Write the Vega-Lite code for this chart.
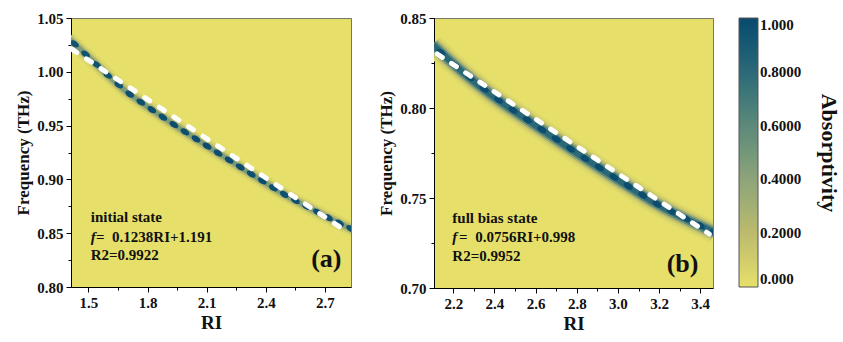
{
  "$schema": "https://vega.github.io/schema/vega-lite/v6.json",
  "padding": {"left": 14, "top": 10, "right": 5, "bottom": 5},
  "config": {
    "font": "Liberation Serif",
    "view": {"fill": "#E6E06A", "stroke": "#77776a", "strokeWidth": 1},
    "axis": {
      "labelFont": "Liberation Serif", "labelFontSize": 15, "labelFontWeight": "bold", "labelColor": "#111",
      "titleFont": "Liberation Serif", "titleFontWeight": "bold", "titleColor": "#111",
      "domainColor": "#000", "tickColor": "#000", "tickSize": 5, "grid": false, "labelPadding": 3
    },
    "legend": {
      "gradientLength": 269, "gradientThickness": 19, "gradientStrokeColor": "#555", "gradientStrokeWidth": 1,
      "labelFont": "Liberation Serif", "labelFontSize": 15, "labelFontWeight": "bold", "labelColor": "#111", "labelOffset": 12,
      "titleFont": "Liberation Serif", "titleFontSize": 22, "titleFontWeight": "bold", "titleColor": "#111",
      "titleOrient": "right", "titleAngle": 90, "titleAnchor": "middle", "titlePadding": 16, "offset": 25
    },
    "concat": {"spacing": 25}
  },
  "datasets": {
    "bandA": [
      {"RI": 1.40, "f": 1.031}, {"RI": 1.5, "f": 1.014}, {"RI": 1.6, "f": 0.9965}, {"RI": 1.7, "f": 0.9805},
      {"RI": 1.8, "f": 0.9675}, {"RI": 1.9, "f": 0.955}, {"RI": 2.0, "f": 0.943}, {"RI": 2.1, "f": 0.9312},
      {"RI": 2.2, "f": 0.9195}, {"RI": 2.3, "f": 0.908}, {"RI": 2.4, "f": 0.8965}, {"RI": 2.5, "f": 0.8853},
      {"RI": 2.6, "f": 0.8755}, {"RI": 2.7, "f": 0.866}, {"RI": 2.85, "f": 0.8525}
    ],
    "blobsA": [
      {"RI": 1.430, "f": 1.0259, "A": 0.93}, {"RI": 1.486, "f": 1.0164, "A": 0.95}, {"RI": 1.542, "f": 1.0067, "A": 0.94},
      {"RI": 1.598, "f": 0.9969, "A": 0.96}, {"RI": 1.654, "f": 0.9879, "A": 0.95}, {"RI": 1.710, "f": 0.9792, "A": 0.97},
      {"RI": 1.766, "f": 0.9719, "A": 0.96}, {"RI": 1.822, "f": 0.9648, "A": 0.98}, {"RI": 1.878, "f": 0.9578, "A": 0.97},
      {"RI": 1.934, "f": 0.9509, "A": 0.98}, {"RI": 1.990, "f": 0.9442, "A": 0.97}, {"RI": 2.046, "f": 0.9376, "A": 0.98},
      {"RI": 2.102, "f": 0.9310, "A": 0.98}, {"RI": 2.158, "f": 0.9244, "A": 0.97}, {"RI": 2.214, "f": 0.9179, "A": 0.98},
      {"RI": 2.270, "f": 0.9115, "A": 0.98}, {"RI": 2.326, "f": 0.9050, "A": 0.97}, {"RI": 2.382, "f": 0.8986, "A": 0.98},
      {"RI": 2.438, "f": 0.8922, "A": 0.97}, {"RI": 2.494, "f": 0.8860, "A": 0.96}, {"RI": 2.550, "f": 0.8804, "A": 0.97},
      {"RI": 2.606, "f": 0.8749, "A": 0.96}, {"RI": 2.662, "f": 0.8696, "A": 0.97}, {"RI": 2.718, "f": 0.8644, "A": 0.96},
      {"RI": 2.774, "f": 0.8593, "A": 0.97}, {"RI": 2.830, "f": 0.8543, "A": 0.96}
    ],
    "fitA": [{"RI": 1.416, "f": 1.021}, {"RI": 2.815, "f": 0.851}],
    "textA": [
      {"RI": 1.512, "f": 0.8655, "t": "initial state"},
      {"RI": 1.539, "f": 0.8465, "t": "= \u00a00.1238RI+1.191"},
      {"RI": 1.512, "f": 0.8300, "t": "R2=0.9922"}
    ],
    "italA": [{"RI": 1.512, "f": 0.8465, "t": "f"}],
    "tagA": [{"RI": 2.707, "f": 0.8258, "t": "(a)"}],
    "bandB": [
      {"RI": 2.10, "f": 0.8352}, {"RI": 2.2, "f": 0.8245}, {"RI": 2.4, "f": 0.806}, {"RI": 2.6, "f": 0.7903},
      {"RI": 2.8, "f": 0.775}, {"RI": 3.0, "f": 0.7602}, {"RI": 3.2, "f": 0.746}, {"RI": 3.47, "f": 0.7308}
    ],
    "blobsB": [
      {"RI": 2.14, "f": 0.8309, "A": 0.97}, {"RI": 2.21, "f": 0.8236, "A": 0.98}, {"RI": 2.28, "f": 0.8171, "A": 0.98},
      {"RI": 2.35, "f": 0.8106, "A": 0.99}, {"RI": 2.42, "f": 0.8044, "A": 0.99}, {"RI": 2.49, "f": 0.7989, "A": 0.99},
      {"RI": 2.56, "f": 0.7934, "A": 0.99}, {"RI": 2.63, "f": 0.7880, "A": 0.99}, {"RI": 2.70, "f": 0.7827, "A": 0.99},
      {"RI": 2.77, "f": 0.7773, "A": 0.99}, {"RI": 2.84, "f": 0.7720, "A": 0.99}, {"RI": 2.91, "f": 0.7669, "A": 0.99},
      {"RI": 2.98, "f": 0.7617, "A": 0.99}, {"RI": 3.05, "f": 0.7567, "A": 0.99}, {"RI": 3.12, "f": 0.7517, "A": 0.99},
      {"RI": 3.19, "f": 0.7467, "A": 0.99}, {"RI": 3.26, "f": 0.7426, "A": 0.98}, {"RI": 3.33, "f": 0.7387, "A": 0.98},
      {"RI": 3.40, "f": 0.7347, "A": 0.98}, {"RI": 3.47, "f": 0.7308, "A": 0.98}
    ],
    "fitB": [{"RI": 2.122, "f": 0.830}, {"RI": 3.444, "f": 0.730}],
    "textB": [
      {"RI": 2.195, "f": 0.7389, "t": "full bias state"},
      {"RI": 2.228, "f": 0.7285, "t": "= \u00a00.0756RI+0.998"},
      {"RI": 2.195, "f": 0.7180, "t": "R2=0.9952"}
    ],
    "italB": [{"RI": 2.195, "f": 0.7285, "t": "f"}],
    "tagB": [{"RI": 3.314, "f": 0.7132, "t": "(b)"}]
  },
  "resolve": {"scale": {"color": "shared"}, "legend": {"color": "shared"}},
  "hconcat": [
    {
      "width": 280, "height": 269,
      "resolve": {"axis": {"x": "independent", "y": "independent"}},
      "layer": [
        {
          "data": {"name": "bandA"},
          "mark": {"type": "line", "stroke": "#D9D66A", "strokeWidth": 14, "clip": true, "interpolate": "monotone"},
          "encoding": {
            "x": {"field": "RI", "type": "quantitative", "scale": {"domain": [1.412, 2.832], "nice": false, "zero": false},
                  "axis": {"values": [1.5, 1.8, 2.1, 2.4, 2.7], "format": ".1f", "title": "RI", "titleFontSize": 19, "titlePadding": 3}},
            "y": {"field": "f", "type": "quantitative", "scale": {"domain": [0.8, 1.05], "nice": false, "zero": false},
                  "axis": {"values": [0.8, 0.85, 0.9, 0.95, 1.0, 1.05], "format": ".2f", "title": "Frequency (THz)", "titleFontSize": 17, "titlePadding": 4}}
          }
        },
        {
          "data": {"name": "bandA"},
          "mark": {"type": "line", "stroke": "#B9B96E", "strokeWidth": 9, "clip": true, "interpolate": "monotone"},
          "encoding": {
            "x": {"field": "RI", "type": "quantitative", "axis": null},
            "y": {"field": "f", "type": "quantitative", "axis": null}
          }
        },
        {
          "data": {"name": "bandA"},
          "mark": {"type": "line", "stroke": "#7C9B78", "strokeWidth": 5, "clip": true, "interpolate": "monotone"},
          "encoding": {
            "x": {"field": "RI", "type": "quantitative", "axis": null},
            "y": {"field": "f", "type": "quantitative", "axis": null}
          }
        },
        {
          "data": {"name": "blobsA"},
          "mark": {"type": "point", "filled": true, "opacity": 1, "strokeWidth": 0, "clip": true,
                   "shape": "M-1,0A1,0.6,0,1,0,1,0A1,0.6,0,1,0,-1,0Z", "angle": 33, "size": 95},
          "encoding": {
            "x": {"field": "RI", "type": "quantitative", "axis": null},
            "y": {"field": "f", "type": "quantitative", "axis": null},
            "color": {"field": "A", "type": "quantitative", "title": "Absorptivity",
                      "scale": {"type": "linear", "domain": [0, 0.2, 0.4, 0.6, 0.8, 1], "range": ["#E6E06A", "#BDBB6D", "#8FA479", "#5E897A", "#2C6978", "#0A4A6E"]},
                      "legend": {"values": [0, 0.2, 0.4, 0.6, 0.8, 1],
                                 "labelExpr": "datum.value == 0 || datum.value == 1 ? format(datum.value, '.3f') : format(datum.value, '.4f')",
                                 "encode": {"labels": {"baseline": {"value": "middle"}}}}}
          }
        },
        {
          "data": {"name": "fitA"},
          "mark": {"type": "line", "stroke": "#FFFFFF", "strokeWidth": 5, "strokeDash": [6, 11.5], "strokeCap": "round", "clip": true},
          "encoding": {
            "x": {"field": "RI", "type": "quantitative", "axis": {"orient": "bottom", "values": [1.65, 1.95, 2.25, 2.55], "labels": false, "domain": false, "tickSize": 3, "title": null}},
            "y": {"field": "f", "type": "quantitative", "axis": {"orient": "left", "values": [0.825, 0.875, 0.925, 0.975, 1.025], "labels": false, "domain": false, "tickSize": 3, "title": null}}
          }
        },
        {
          "data": {"name": "textA"},
          "mark": {"type": "text", "align": "left", "baseline": "middle", "fontSize": 15, "fontWeight": "bold", "font": "Liberation Serif", "color": "#111"},
          "encoding": {
            "x": {"field": "RI", "type": "quantitative", "axis": null},
            "y": {"field": "f", "type": "quantitative", "axis": null},
            "text": {"field": "t"}
          }
        },
        {
          "data": {"name": "italA"},
          "mark": {"type": "text", "align": "left", "baseline": "middle", "fontSize": 15, "fontWeight": "bold", "fontStyle": "italic", "font": "Liberation Serif", "color": "#111"},
          "encoding": {
            "x": {"field": "RI", "type": "quantitative", "axis": null},
            "y": {"field": "f", "type": "quantitative", "axis": null},
            "text": {"field": "t"}
          }
        },
        {
          "data": {"name": "tagA"},
          "mark": {"type": "text", "align": "center", "baseline": "middle", "fontSize": 26, "fontWeight": "bold", "font": "Liberation Serif", "color": "#111"},
          "encoding": {
            "x": {"field": "RI", "type": "quantitative", "axis": null},
            "y": {"field": "f", "type": "quantitative", "axis": null},
            "text": {"field": "t"}
          }
        }
      ]
    },
    {
      "width": 279, "height": 270,
      "resolve": {"axis": {"x": "independent", "y": "independent"}},
      "layer": [
        {
          "data": {"name": "bandB"},
          "mark": {"type": "line", "stroke": "#DCD86A", "strokeWidth": 22, "clip": true, "interpolate": "monotone"},
          "encoding": {
            "x": {"field": "RI", "type": "quantitative", "scale": {"domain": [2.106, 3.462], "nice": false, "zero": false},
                  "axis": {"values": [2.2, 2.4, 2.6, 2.8, 3.0, 3.2, 3.4], "format": ".1f", "title": "RI", "titleFontSize": 19, "titlePadding": 3}},
            "y": {"field": "f", "type": "quantitative", "scale": {"domain": [0.7, 0.85], "nice": false, "zero": false},
                  "axis": {"values": [0.7, 0.75, 0.8, 0.85], "format": ".2f", "title": "Frequency (THz)", "titleFontSize": 17, "titlePadding": 4}}
          }
        },
        {
          "data": {"name": "bandB"},
          "mark": {"type": "line", "stroke": "#CBC96C", "strokeWidth": 17, "clip": true, "interpolate": "monotone"},
          "encoding": {
            "x": {"field": "RI", "type": "quantitative", "axis": null},
            "y": {"field": "f", "type": "quantitative", "axis": null}
          }
        },
        {
          "data": {"name": "bandB"},
          "mark": {"type": "line", "stroke": "#A3AE73", "strokeWidth": 13, "clip": true, "interpolate": "monotone"},
          "encoding": {
            "x": {"field": "RI", "type": "quantitative", "axis": null},
            "y": {"field": "f", "type": "quantitative", "axis": null}
          }
        },
        {
          "data": {"name": "bandB"},
          "mark": {"type": "line", "stroke": "#5E897A", "strokeWidth": 9.5, "clip": true, "interpolate": "monotone"},
          "encoding": {
            "x": {"field": "RI", "type": "quantitative", "axis": null},
            "y": {"field": "f", "type": "quantitative", "axis": null}
          }
        },
        {
          "data": {"name": "bandB"},
          "mark": {"type": "line", "stroke": "#2A6777", "strokeWidth": 6, "clip": true, "interpolate": "monotone"},
          "encoding": {
            "x": {"field": "RI", "type": "quantitative", "axis": null},
            "y": {"field": "f", "type": "quantitative", "axis": null}
          }
        },
        {
          "data": {"name": "blobsB"},
          "mark": {"type": "point", "filled": true, "opacity": 1, "strokeWidth": 0, "clip": true,
                   "shape": "M-1,0A1,0.6,0,1,0,1,0A1,0.6,0,1,0,-1,0Z", "angle": 33, "size": 100},
          "encoding": {
            "x": {"field": "RI", "type": "quantitative", "axis": null},
            "y": {"field": "f", "type": "quantitative", "axis": null},
            "color": {"field": "A", "type": "quantitative", "title": "Absorptivity"}
          }
        },
        {
          "data": {"name": "fitB"},
          "mark": {"type": "line", "stroke": "#FFFFFF", "strokeWidth": 5, "strokeDash": [6, 11], "strokeCap": "round", "clip": true},
          "encoding": {
            "x": {"field": "RI", "type": "quantitative", "axis": {"orient": "bottom", "values": [2.3, 2.5, 2.7, 2.9, 3.1, 3.3], "labels": false, "domain": false, "tickSize": 3, "title": null}},
            "y": {"field": "f", "type": "quantitative", "axis": {"orient": "left", "values": [0.725, 0.775, 0.825], "labels": false, "domain": false, "tickSize": 3, "title": null}}
          }
        },
        {
          "data": {"name": "textB"},
          "mark": {"type": "text", "align": "left", "baseline": "middle", "fontSize": 15, "fontWeight": "bold", "font": "Liberation Serif", "color": "#111"},
          "encoding": {
            "x": {"field": "RI", "type": "quantitative", "axis": null},
            "y": {"field": "f", "type": "quantitative", "axis": null},
            "text": {"field": "t"}
          }
        },
        {
          "data": {"name": "italB"},
          "mark": {"type": "text", "align": "left", "baseline": "middle", "fontSize": 15, "fontWeight": "bold", "fontStyle": "italic", "font": "Liberation Serif", "color": "#111"},
          "encoding": {
            "x": {"field": "RI", "type": "quantitative", "axis": null},
            "y": {"field": "f", "type": "quantitative", "axis": null},
            "text": {"field": "t"}
          }
        },
        {
          "data": {"name": "tagB"},
          "mark": {"type": "text", "align": "center", "baseline": "middle", "fontSize": 26, "fontWeight": "bold", "font": "Liberation Serif", "color": "#111"},
          "encoding": {
            "x": {"field": "RI", "type": "quantitative", "axis": null},
            "y": {"field": "f", "type": "quantitative", "axis": null},
            "text": {"field": "t"}
          }
        }
      ]
    }
  ]
}
